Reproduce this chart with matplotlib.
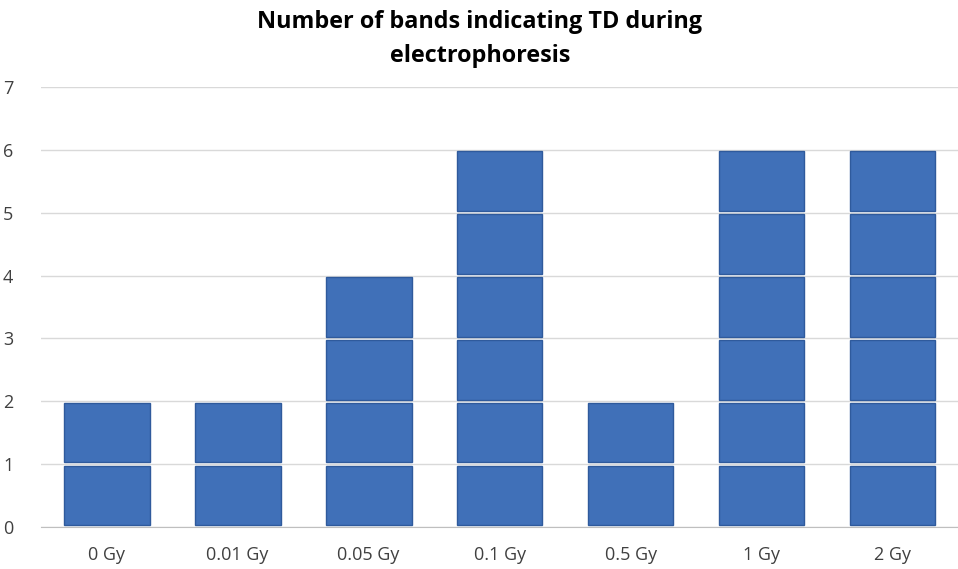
import numpy as np
import matplotlib.pyplot as plt

plt.rcParams['font.family'] = ['Open Sans', 'DejaVu Sans']

# 전기영동 TD 밴드 개수
doses = ['0 Gy', '0.01 Gy', '0.05 Gy', '0.1 Gy', '0.5 Gy', '1 Gy', '2 Gy']
bands = [2, 2, 4, 6, 2, 6, 6]

fig = plt.figure(figsize=(9.58, 5.69), dpi=100)
ax = fig.add_axes([0.043, 0.074, 0.957, 0.773])

x = np.arange(len(doses))
gap = 0.05
# 밴드 하나당 한 칸씩 쌓기
for xi, n in zip(x, bands):
    for i in range(n):
        ax.bar(xi, 1 - gap, bottom=i + gap / 2, width=0.655,
               color='#4070b8', edgecolor='#2f5a9c', linewidth=1.0, zorder=3)

ax.set_xlim(-0.5, len(doses) - 0.5)
ax.set_ylim(0, 7)
ax.set_yticks(range(8))
ax.set_xticks(x)
ax.set_xticklabels(doses)
ax.yaxis.grid(True, color='#d9d9d9', linewidth=1.0, zorder=0)
ax.set_axisbelow(True)
for s in ['top', 'right', 'left']:
    ax.spines[s].set_visible(False)
ax.spines['bottom'].set_color('#bfbfbf')
ax.tick_params(axis='both', length=0, labelsize=13, colors='#404040')
ax.tick_params(axis='x', pad=14)
ax.tick_params(axis='y', pad=20)

fig.suptitle('Number of bands indicating TD during\nelectrophoresis',
             x=0.501, y=0.983, fontsize=16.8, fontweight='bold', linespacing=1.6)

plt.savefig('out.png', dpi=100)
